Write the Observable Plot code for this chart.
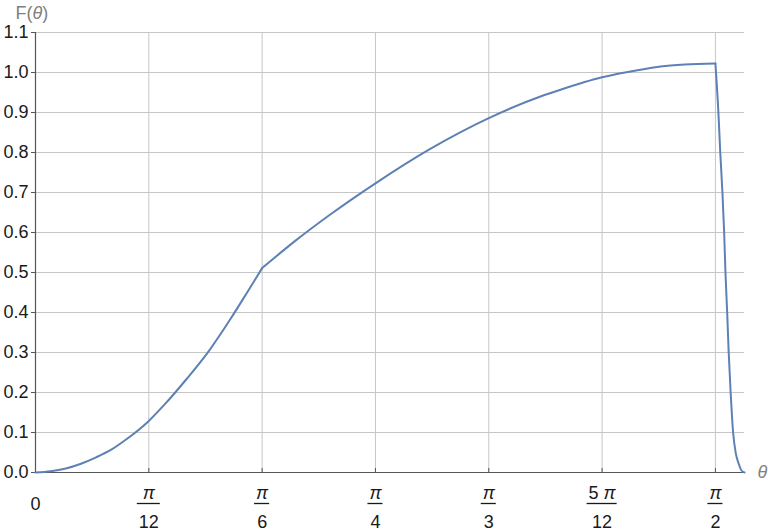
<!DOCTYPE html>
<html><head><meta charset="utf-8">
<script src="https://cdn.jsdelivr.net/npm/d3@7"></script>
<script src="https://cdn.jsdelivr.net/npm/@observablehq/plot@0.6"></script>
<style>body{margin:0;background:#fff;} svg{display:block}</style>
</head><body><div id="chart"></div>
<script>
// curve samples (segment: 0 rising, 1 after the kink at π/6, 2 the drop after π/2)
const theta = [0, 0.035, 0.07, 0.105, 0.14, 0.175, 0.21, 0.2618, 0.30, 0.35, 0.40, 0.45, 0.49, 0.5236,
  0.5236, 0.60, 0.681, 0.7854, 0.912, 1.0472, 1.1666, 1.213, 1.309, 1.398, 1.444, 1.50, 1.5708,
  1.5708, 1.5777, 1.582, 1.587, 1.591, 1.594, 1.598, 1.6015, 1.606, 1.6117, 1.6177, 1.6246, 1.631, 1.638];
const F = [0, 0.003, 0.01, 0.022, 0.038, 0.057, 0.083, 0.129, 0.172, 0.235, 0.303, 0.383, 0.452, 0.511,
  0.511, 0.579, 0.645, 0.723, 0.809, 0.886, 0.94, 0.957, 0.988, 1.007, 1.015, 1.02, 1.0225,
  1.0225, 0.9, 0.8, 0.7, 0.6, 0.5, 0.4, 0.3, 0.2, 0.1, 0.049, 0.022, 0.005, 0];
const segment = [0,0,0,0,0,0,0,0,0,0,0,0,0,0,
  1,1,1,1,1,1,1,1,1,1,1,1,1,
  2,2,2,2,2,2,2,2,2,2,2,2,2,2];
const xTickValues = [Math.PI/12, Math.PI/6, Math.PI/4, Math.PI/3, 5*Math.PI/12, Math.PI/2];
const xTickNum = ["π", "π", "π", "π", "5 π", "π"];
const xTickDen = ["12", "6", "4", "3", "12", "2"];
const yTicks = [0, 0.1, 0.2, 0.3, 0.4, 0.5, 0.6, 0.7, 0.8, 0.9, 1.0, 1.1];
const yTitle = "F(θ)";
const xTitle = "θ";

const data = theta.map((t, i) => ({t, f: F[i], seg: segment[i]}));
const ticks = xTickValues.map((v, i) => ({v, num: xTickNum[i], den: xTickDen[i]}));
const font = "'Liberation Sans', Arial, sans-serif";

const plot = Plot.plot({
  width: 768, height: 531,
  marginTop: 32, marginRight: 24, marginBottom: 59, marginLeft: 35,
  style: {fontFamily: font, fontSize: "18px", background: "#fff", color: "#1a1a1a"},
  x: {domain: [0, 1.638], label: null},
  y: {domain: [0, 1.1], label: null},
  marks: [
    Plot.gridX(xTickValues, {stroke: "#c6c6c6", strokeOpacity: 1}),
    Plot.gridY(yTicks.slice(1), {stroke: "#c6c6c6", strokeOpacity: 1}),
    Plot.axisY(yTicks, {tickSize: 4, tickPadding: 3, tickFormat: d3.format(".1f"), stroke: "#555", fill: "#1a1a1a", fontSize: 18}),
    Plot.axisX(xTickValues, {tickSize: -4, tickFormat: () => "", stroke: "#555"}),
    Plot.ruleX([0], {stroke: "#555", strokeWidth: 1.2}),
    Plot.ruleY([0], {stroke: "#555", strokeWidth: 1.2}),
    Plot.line(data, {x: "t", y: "f", z: "seg", stroke: "#5e81b5", strokeWidth: 2, curve: "monotone-x"}),
    Plot.text(ticks, {x: "v", text: "num", frameAnchor: "bottom", dy: 21, lineAnchor: "middle", fontSize: 18, fill: "#1a1a1a"}),
    Plot.text(ticks, {x: "v", text: "den", frameAnchor: "bottom", dy: 50, lineAnchor: "middle", fontSize: 18, fill: "#1a1a1a"}),
    Plot.text(["0"], {x: 0, frameAnchor: "bottom", dy: 32, lineAnchor: "middle", fontSize: 18, fill: "#1a1a1a"}),
    Plot.text([yTitle], {frameAnchor: "top-left", dx: -20, dy: -19, textAnchor: "start", lineAnchor: "middle", fontSize: 18, fill: "#808080"}),
    Plot.text([xTitle], {frameAnchor: "bottom-right", dx: 13, dy: 0, textAnchor: "start", lineAnchor: "middle", fontSize: 18, fill: "#808080", fontStyle: "italic"})
  ]
});
document.getElementById("chart").appendChild(plot);

const svg = d3.select(plot);
const allText = svg.selectAll("text").nodes();
// italic θ in the y title
allText.filter(n => n.textContent === yTitle).forEach(n => {
  const t = d3.select(n); t.text("");
  for (const ch of yTitle) t.append("tspan").attr("font-style", ch === "θ" ? "italic" : null).text(ch);
});
// italic π in numerators
const numNodes = allText.filter(n => n.textContent.includes("π"));
numNodes.forEach(n => {
  const s = n.textContent; const t = d3.select(n); t.text("");
  const parts = s.split("π");
  if (parts[0]) t.append("tspan").text(parts[0]);
  t.append("tspan").attr("font-style", "italic").text("π");
});
const denSet = new Set(xTickDen);
const denNodes = allText.filter(n => denSet.has(n.textContent));
// fraction bars, positioned with the x scale
const xs = plot.scale("x");
const yBar = 531 - 59 + 31.5;
const bars = svg.append("g").attr("stroke", "#1a1a1a").attr("stroke-width", 1.3);
ticks.forEach((d, i) => {
  const a = numNodes[i] ? numNodes[i].getComputedTextLength() : 12;
  const b = denNodes[i] ? denNodes[i].getComputedTextLength() : 12;
  const w = Math.max(a, b) + 3;
  const cx = xs.apply(d.v);
  bars.append("line").attr("x1", cx - w / 2).attr("x2", cx + w / 2).attr("y1", yBar).attr("y2", yBar);
});
</script>
</body></html>
